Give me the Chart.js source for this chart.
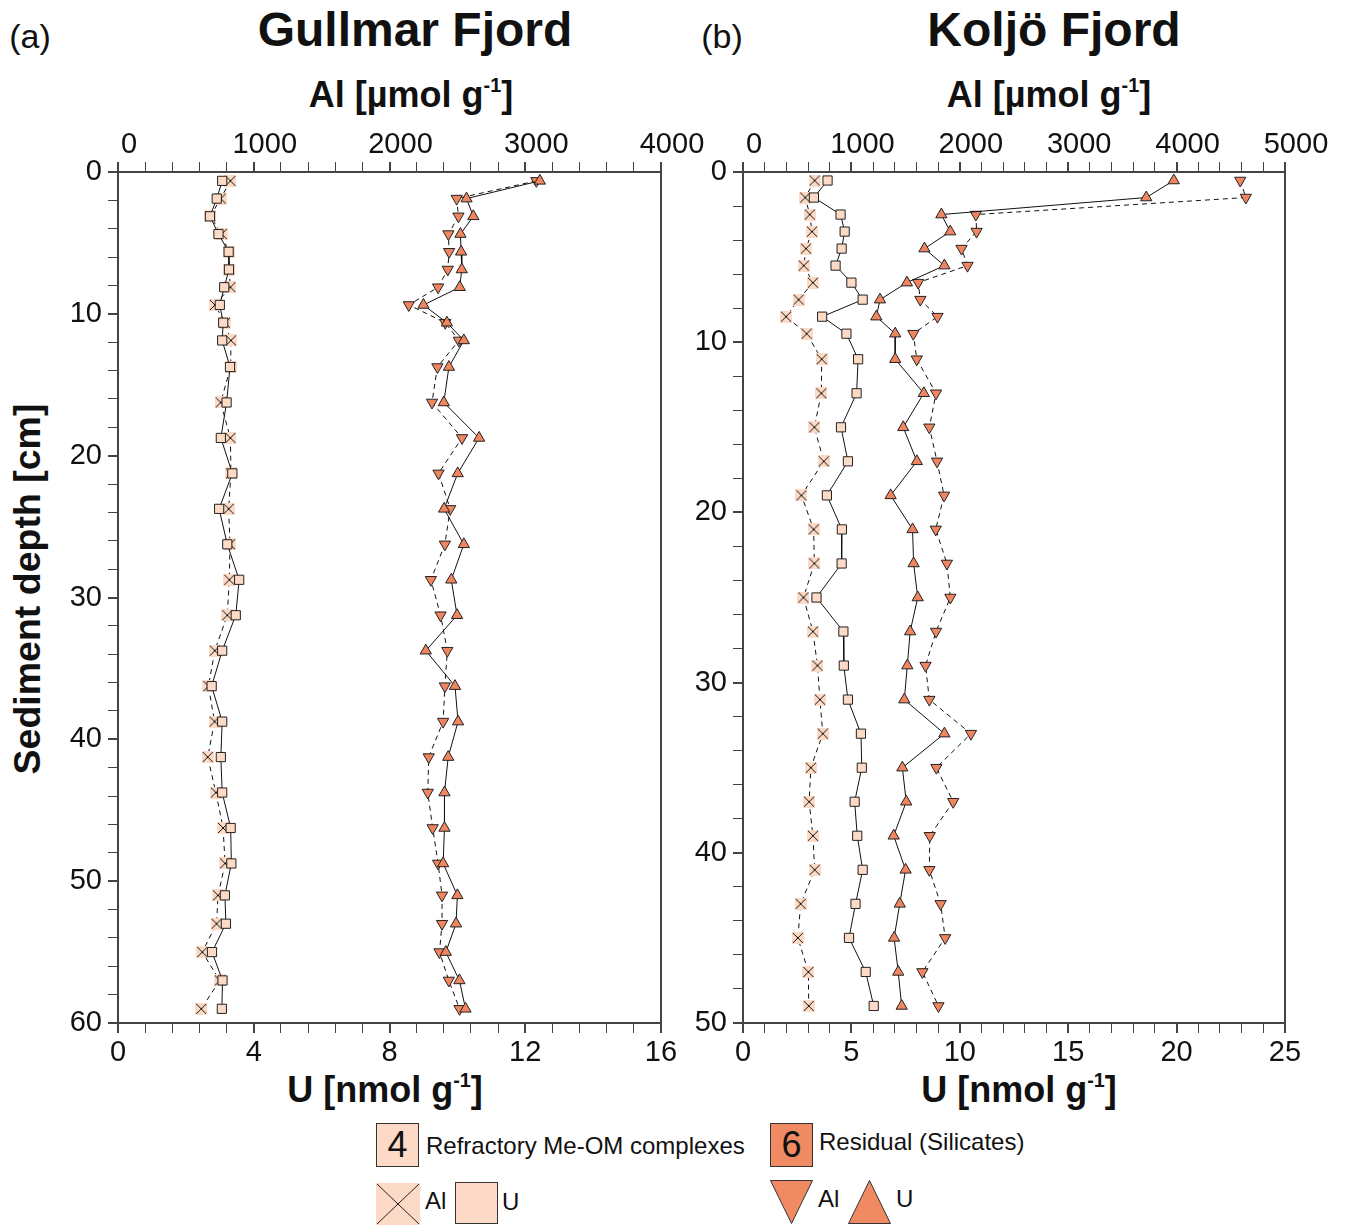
<!DOCTYPE html>
<html>
<head>
<meta charset="utf-8">
<title>Al / U profiles</title>
<script src="https://cdn.jsdelivr.net/npm/chart.js@4.4.1/dist/chart.umd.min.js"></script>
<style>
    body { margin: 0; background: #fff; font-family: "Liberation Sans", Arial, sans-serif; color: #111; }
    #wrap { position: relative; width: 1349px; height: 1225px; overflow: hidden; }
    canvas { position: absolute; }
    .t { position: absolute; white-space: nowrap; transform: translate(-50%, -50%); line-height: 1; }
    .l { position: absolute; white-space: nowrap; transform: translateY(-50%); line-height: 1; font-size: 24px; }
    .b { font-weight: bold; }
    sup { font-size: 55%; position: relative; top: -0.75em; line-height: 0; vertical-align: baseline; }
    .box { position: absolute; width: 41px; height: 42px; border: 1px solid #333; text-align: center; font-size: 36px; line-height: 42px; }
    svg { position: absolute; }
</style>
</head>
<body>
<div id="wrap">
    <!-- 标题 -->
    <div class="t" style="left:30px;top:36px;font-size:34px">(a)</div>
    <div class="t b" style="left:415px;top:30px;font-size:48px">Gullmar Fjord</div>
    <div class="t" style="left:722px;top:36px;font-size:34px">(b)</div>
    <div class="t b" style="left:1054px;top:30px;font-size:48px">Koljö Fjord</div>

    <!-- 坐标轴标题 -->
    <div class="t b" style="left:411px;top:95px;font-size:36px">Al [µmol g<sup>-1</sup>]</div>
    <div class="t b" style="left:1049px;top:95px;font-size:36px">Al [µmol g<sup>-1</sup>]</div>
    <div class="t b" style="left:385px;top:1090px;font-size:36px">U [nmol g<sup>-1</sup>]</div>
    <div class="t b" style="left:1019px;top:1090px;font-size:36px">U [nmol g<sup>-1</sup>]</div>
    <div class="t b" style="left:28px;top:589px;font-size:37.5px;transform:translate(-50%,-50%) rotate(-90deg)">Sediment depth [cm]</div>

    <canvas id="chartA" width="705" height="990" style="left:0;top:110px"></canvas>
    <canvas id="chartB" width="669" height="990" style="left:680px;top:110px"></canvas>

    <!-- 图例 -->
    <div class="box" style="left:376px;top:1123px;background:#FCDAC5">4</div>
    <div class="l" style="left:426px;top:1146px">Refractory Me-OM complexes</div>
    <div class="box" style="left:770px;top:1123px;background:#EF8A62">6</div>
    <div class="l" style="left:819px;top:1142px">Residual (Silicates)</div>

    <svg style="left:376px;top:1183px" width="44" height="42">
        <rect x="0" y="0" width="44" height="42" fill="#FCDAC5"/>
        <path d="M1 1 L43 41 M43 1 L1 41" stroke="#222" stroke-width="1" fill="none"/>
    </svg>
    <div class="l" style="left:425px;top:1201px">Al</div>
    <svg style="left:455px;top:1182px" width="43" height="42">
        <rect x="0.5" y="0.5" width="42" height="41" fill="#FCDAC5" stroke="#333" stroke-width="1"/>
    </svg>
    <div class="l" style="left:502px;top:1202px">U</div>

    <svg style="left:770px;top:1180px" width="43" height="44">
        <path d="M0.5 0.5 L42.5 0.5 L21.5 43.5 Z" fill="#EF8A62" stroke="#333" stroke-width="1"/>
    </svg>
    <div class="l" style="left:818px;top:1199px">Al</div>
    <svg style="left:848px;top:1180px" width="43" height="44">
        <path d="M21.5 0.5 L42.5 43.5 L0.5 43.5 Z" fill="#EF8A62" stroke="#333" stroke-width="1"/>
    </svg>
    <div class="l" style="left:896px;top:1199px">U</div>
</div>

<script>
// ==============================================
// 数据 (a) Gullmar Fjord
// ==============================================
const depthA = [0.625, 1.875, 3.125, 4.375, 5.625, 6.875, 8.125, 9.375, 10.625, 11.875,
    13.75, 16.25, 18.75, 21.25, 23.75, 26.25, 28.75, 31.25, 33.75, 36.25,
    38.75, 41.25, 43.75, 46.25, 48.75, 51, 53, 55, 57, 59];
const alRefA = [828, 756, 680, 764, 815, 818, 828, 714, 788, 832,
    830, 756, 828, 832, 815, 825, 820, 805, 713, 666,
    711, 661, 721, 774, 789, 737, 726, 621, 750, 613];
const uRefA = [3.07, 2.91, 2.71, 2.96, 3.26, 3.27, 3.13, 3.0, 3.1, 3.07,
    3.3, 3.2, 3.03, 3.37, 2.98, 3.22, 3.57, 3.47, 3.07, 2.76,
    3.07, 3.03, 3.07, 3.32, 3.34, 3.15, 3.18, 2.77, 3.08, 3.06];
const alResA = [3082, 2495, 2508, 2434, 2439, 2429, 2358, 2142, 2411, 2511,
    2353, 2313, 2534, 2361, 2447, 2408, 2305, 2376, 2426, 2408,
    2395, 2289, 2282, 2318, 2358, 2387, 2387, 2368, 2437, 2516];
const uResA = [12.43, 10.27, 10.47, 10.09, 10.11, 10.13, 10.07, 9.0, 9.69, 10.19,
    9.75, 9.6, 10.64, 10.01, 9.61, 10.19, 9.82, 9.99, 9.07, 9.93,
    10.02, 9.73, 9.62, 9.62, 9.58, 10.0, 9.96, 9.66, 10.06, 10.24];

// ==============================================
// 数据 (b) Koljö Fjord
// ==============================================
const depthB = [0.5, 1.5, 2.5, 3.5, 4.5, 5.5, 6.5, 7.5, 8.5, 9.5,
    11, 13, 15, 17, 19, 21, 23, 25, 27, 29,
    31, 33, 35, 37, 39, 41, 43, 45, 47, 49];
const alRefB = [661, 574, 616, 636, 581, 561, 645, 513, 397, 587,
    726, 723, 658, 745, 539, 652, 658, 558, 645, 687,
    710, 736, 626, 610, 645, 661, 532, 506, 603, 606];
const uRefB = [3.9, 3.27, 4.5, 4.69, 4.55, 4.27, 5.0, 5.52, 3.65, 4.77,
    5.31, 5.24, 4.52, 4.84, 3.87, 4.56, 4.55, 3.39, 4.63, 4.65,
    4.84, 5.44, 5.48, 5.15, 5.27, 5.52, 5.19, 4.89, 5.66, 6.03];
const alResB = [4587, 4639, 2148, 2155, 2016, 2071, 1616, 1636, 1794, 1571,
    1603, 1781, 1719, 1790, 1855, 1778, 1881, 1913, 1781, 1684,
    1719, 2103, 1784, 1939, 1723, 1719, 1823, 1865, 1655, 1803];
const uResB = [19.87, 18.6, 9.15, 9.56, 8.37, 9.29, 7.56, 6.32, 6.15, 7.02,
    7.02, 8.34, 7.39, 8.02, 6.81, 7.82, 7.87, 8.06, 7.71, 7.58,
    7.44, 9.29, 7.35, 7.53, 6.95, 7.5, 7.23, 6.97, 7.16, 7.32];

// 颜色
const refColor = '#FCDAC5';
const resColor = '#EF8660';
const FONT = 'Liberation Sans, Arial, sans-serif';

// 带底色的 × 标记
function makeCross() {
    const c = document.createElement('canvas');
    c.width = 12; c.height = 12;
    const g = c.getContext('2d');
    g.fillStyle = refColor;
    g.fillRect(0, 0, 12, 12);
    g.strokeStyle = '#111';
    g.lineWidth = 1;
    g.beginPath();
    g.moveTo(1, 1); g.lineTo(11, 11);
    g.moveTo(11, 1); g.lineTo(1, 11);
    g.stroke();
    return c;
}
const crossImg = makeCross();

function isMajor(v, step) {
    return Math.abs(v / step - Math.round(v / step)) < 1e-6;
}

function toPoints(xs, ys) {
    return ys.map((d, i) => ({ x: xs[i], y: d }));
}

// 绘图区外框
const framePlugin = {
    id: 'frame',
    afterDraw(chart) {
        const { ctx, chartArea: a } = chart;
        ctx.save();
        ctx.strokeStyle = '#444';
        ctx.lineWidth = 2;
        ctx.strokeRect(a.left, a.top, a.right - a.left, a.bottom - a.top);
        ctx.restore();
    }
};

function axis(position, max, step, major, size) {
    const horiz = position === 'top' || position === 'bottom';
    return {
        type: 'linear',
        position: position,
        min: 0,
        max: max,
        reverse: !horiz,
        ticks: {
            stepSize: step,
            autoSkip: false,
            maxRotation: 0,
            padding: position === 'top' ? 0 : (horiz ? 3 : 6),
            labelOffset: position === 'top' ? 11 : 0,
            color: '#111',
            font: { family: FONT, size: 29 },
            callback: v => isMajor(v, major) ? String(Math.round(v)) : ''
        },
        grid: {
            drawOnChartArea: false,
            drawTicks: true,
            tickLength: 10,
            color: '#444',
            lineWidth: ctx => (ctx.tick && isMajor(ctx.tick.value, major)) ? 2 : 1
        },
        border: { display: false },
        afterFit: s => {
            if (horiz) s.height = size; else s.width = size;
            s.paddingLeft = 0; s.paddingRight = 0;
            s.paddingTop = 0; s.paddingBottom = 0;
        }
    };
}

function buildDatasets(depth, alRef, uRef, alRes, uRes) {
    const line = { showLine: true, borderColor: '#111', borderWidth: 1, pointBorderColor: '#222', pointBorderWidth: 1 };
    return [
        Object.assign({ label: 'U refractory', data: toPoints(uRef, depth), xAxisID: 'xU',
            pointStyle: 'rect', pointRadius: 6.5, backgroundColor: refColor, pointBackgroundColor: refColor }, line),
        Object.assign({ label: 'U residual', data: toPoints(uRes, depth), xAxisID: 'xU',
            pointStyle: 'triangle', pointRadius: 6.5, backgroundColor: resColor, pointBackgroundColor: resColor }, line),
        Object.assign({ label: 'Al refractory', data: toPoints(alRef, depth), xAxisID: 'xAl',
            pointStyle: crossImg, pointRadius: 5, borderDash: [5, 4] }, line),
        Object.assign({ label: 'Al residual', data: toPoints(alRes, depth), xAxisID: 'xAl',
            pointStyle: 'triangle', pointRotation: 180, pointRadius: 6.5, backgroundColor: resColor,
            pointBackgroundColor: resColor, borderDash: [5, 4] }, line)
    ];
}

function makeChart(id, datasets, cfg) {
    return new Chart(document.getElementById(id), {
        type: 'scatter',
        data: { datasets: datasets },
        options: {
            responsive: false,
            animation: false,
            layout: { padding: { left: 0, top: 0, right: cfg.padRight, bottom: 0 } },
            plugins: { legend: { display: false }, tooltip: { enabled: false } },
            scales: {
                xAl: axis('top', cfg.alMax, 200, 1000, 62),
                xU: axis('bottom', cfg.uMax, cfg.uStep, cfg.uMajor, 77),
                y: axis('left', cfg.depthMax, 2, 10, cfg.yWidth)
            }
        },
        plugins: [framePlugin]
    });
}

// (a) 绘图区 x 118-661, y 172-1023
makeChart('chartA', buildDatasets(depthA, alRefA, uRefA, alResA, uResA),
    { alMax: 4000, uMax: 16, uStep: 0.8, uMajor: 4, depthMax: 60, yWidth: 118, padRight: 44 });

// (b) 绘图区 x 743-1285, y 172-1023
makeChart('chartB', buildDatasets(depthB, alRefB, uRefB, alResB, uResB),
    { alMax: 5000, uMax: 25, uStep: 1, uMajor: 5, depthMax: 50, yWidth: 63, padRight: 64 });
</script>
</body>
</html>
